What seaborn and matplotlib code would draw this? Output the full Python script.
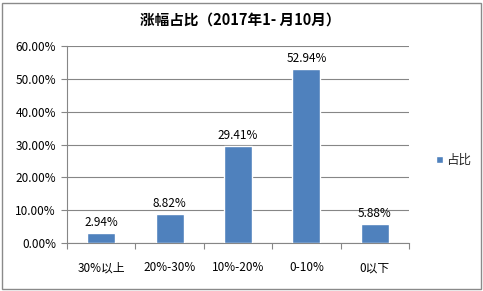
import matplotlib
matplotlib.use("Agg")
import matplotlib.pyplot as plt
import seaborn as sns
import pandas as pd
from matplotlib.patches import Rectangle
from matplotlib.ticker import FuncFormatter, MultipleLocator

categories = ["30%以上", "20%-30%", "10%-20%", "0-10%", "0以下"]
values = [2.94, 8.82, 29.41, 52.94, 5.88]
series_name = "占比"
title = "涨幅占比（2017年1- 月10月）"

sns.set_theme(style="white")
plt.rcParams['font.family'] = ['Noto Sans CJK SC', 'DejaVu Sans']

df = pd.DataFrame({"cat": categories, "val": values})

fig = plt.figure(figsize=(4.83, 2.91), dpi=100)
ax = fig.add_axes([67/483, 1-243/291, (409-67)/483, (243-46)/291])

bar_color = "#4F81BD"
sns.barplot(data=df, x="cat", y="val", color=bar_color, width=0.41,
            saturation=1, ax=ax, label=series_name, zorder=3)

ax.set_ylim(0, 60)
ax.set_xlim(-0.5, len(categories) - 0.5)
ax.yaxis.set_major_locator(MultipleLocator(10))
ax.yaxis.set_major_formatter(FuncFormatter(lambda v, p: f"{v:.2f}%"))
ax.set_xlabel("")
ax.set_ylabel("")

grid_c = "#868686"
ax.yaxis.grid(True, color=grid_c, linewidth=0.8, zorder=0)
ax.set_axisbelow(True)
for s in ["top", "right"]:
    ax.spines[s].set_visible(False)
for s in ["left", "bottom"]:
    ax.spines[s].set_color(grid_c)
    ax.spines[s].set_linewidth(0.8)

fs = 8.5
ax.tick_params(axis="y", which="major", left=True, length=4, width=0.8,
               color=grid_c, labelsize=fs, pad=4, labelcolor="#000000")
ax.set_xticks([i for i in range(len(categories))])
ax.set_xticks([i - 0.5 for i in range(len(categories) + 1)], minor=True)
ax.tick_params(axis="x", which="major", bottom=False, labelsize=fs, pad=7,
               labelcolor="#000000")
ax.tick_params(axis="x", which="minor", bottom=True, length=4, width=0.8,
               color=grid_c)

for i, v in enumerate(values):
    ax.annotate(f"{v:.2f}%", (i, v), xytext=(0, 3), textcoords="offset points",
                ha="center", va="bottom", fontsize=fs, color="#000000")

fig.text(240/483, 1-20/291, title, fontsize=10.5, fontweight="bold",
         ha="center", va="center", color="#000000")

ax.legend(loc="center left", bbox_to_anchor=(425/483, 1-160/291),
          bbox_transform=fig.transFigure, frameon=False, fontsize=9,
          handlelength=0.5, handleheight=0.5, handletextpad=0.3)

fig.patches.append(Rectangle((2/483, 2/291), 479/483, 286/291, transform=fig.transFigure,
                             fill=False, edgecolor="#8A8A8A", linewidth=1))

fig.savefig("out.png", dpi=100)
